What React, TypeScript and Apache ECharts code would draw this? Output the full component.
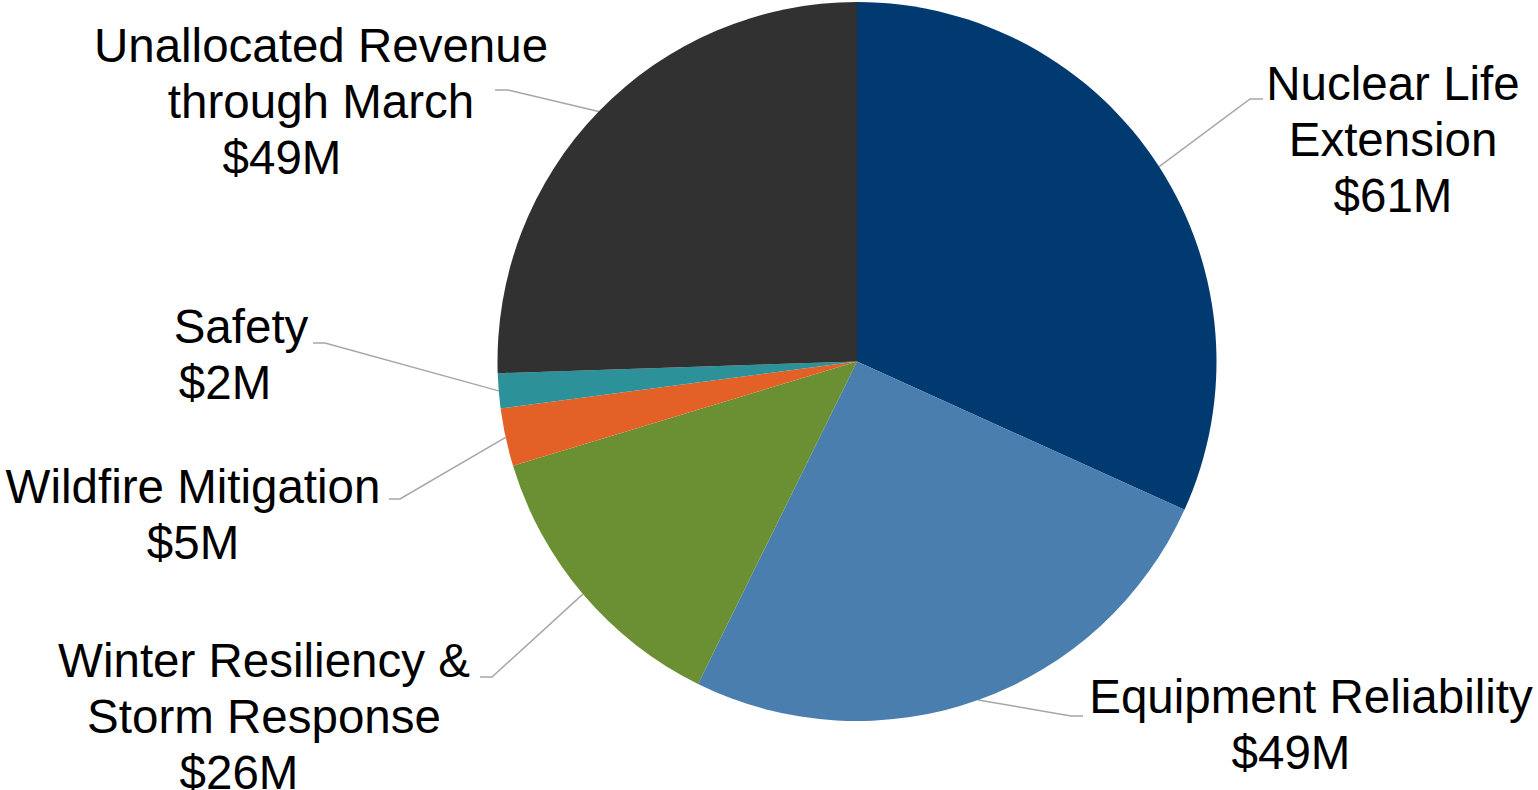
import React, { useEffect, useRef } from "react";
import * as echarts from "echarts";

// ---- data ----
const categories = [
  "Nuclear Life Extension",
  "Equipment Reliability",
  "Winter Resiliency & Storm Response",
  "Wildfire Mitigation",
  "Safety",
  "Unallocated Revenue through March",
];
const labelNameLines = [
  ["Nuclear Life", "Extension"],
  ["Equipment Reliability"],
  ["Winter Resiliency &", "Storm Response"],
  ["Wildfire Mitigation"],
  ["Safety"],
  ["Unallocated Revenue", "through March"],
];
const values = [61, 49, 25, 5, 3, 49];
const amountLabels = ["$61M", "$49M", "$26M", "$5M", "$2M", "$49M"];

// ---- styles / layout ----
const colors = ["#003A70", "#4A7EAF", "#6A9033", "#E36026", "#2C9198", "#313131"];
const FONT = "'Liberation Sans', Arial, Helvetica, sans-serif";
const FONT_SIZE = 47.5;
const LINE_H = 56;
const CENTER: [number, number] = [857, 361.5];
const RADIUS = 359.5;

// label block: center x, top y, amount-line right padding (shifts it left), leader elbow & end
const labelLayouts = [
  { x: 1393, top: 55, pad: 0, elbow: [1250, 99], end: [1263, 99] },
  { x: 1311, top: 668, pad: 40, elbow: [1071, 716], end: [1083, 716] },
  { x: 264, top: 632, pad: 50, elbow: [492, 677], end: [480, 677] },
  { x: 193, top: 458, pad: 0, elbow: [400, 499], end: [389, 499] },
  { x: 241, top: 298, pad: 32, elbow: [325, 343], end: [313, 343] },
  { x: 321, top: 17, pad: 78, elbow: [508, 90], end: [495, 90] },
];

export default function App() {
  const ref = useRef<HTMLDivElement>(null);

  useEffect(() => {
    if (!ref.current) return;
    const chart = echarts.init(ref.current, undefined, { renderer: "svg" });

    const total = values.reduce((a, b) => a + b, 0);
    const midPoint = (idx: number) => {
      let cum = 0;
      for (let i = 0; i < idx; i++) cum += values[i];
      const mid = ((cum + values[idx] / 2) / total) * Math.PI * 2;
      return [CENTER[0] + RADIUS * Math.sin(mid), CENTER[1] - RADIUS * Math.cos(mid)];
    };

    const rich: Record<string, any> = {
      n: { fontSize: FONT_SIZE, lineHeight: LINE_H, fontFamily: FONT, color: "#000" },
    };
    labelLayouts.forEach((l, i) => {
      rich["v" + i] = {
        fontSize: FONT_SIZE,
        lineHeight: LINE_H,
        fontFamily: FONT,
        color: "#000",
        padding: [0, l.pad, 0, 0],
      };
    });

    chart.setOption({
      animation: false,
      backgroundColor: "#ffffff",
      series: [
        {
          type: "pie",
          center: CENTER,
          radius: RADIUS,
          startAngle: 90,
          clockwise: true,
          avoidLabelOverlap: false,
          silent: true,
          data: categories.map((name, i) => ({
            name,
            value: values[i],
            itemStyle: { color: colors[i] },
          })),
          label: {
            show: true,
            position: "outer",
            fontSize: FONT_SIZE,
            lineHeight: LINE_H,
            fontFamily: FONT,
            color: "#000",
            formatter: (p: any) =>
              labelNameLines[p.dataIndex].map((t) => `{n|${t}}`).join("\n") +
              `\n{v${p.dataIndex}|${amountLabels[p.dataIndex]}}`,
            rich,
          },
          labelLine: {
            show: true,
            length: 20,
            length2: 10,
            lineStyle: { color: "#A6A6A6", width: 1.5 },
          },
          labelLayout: (params: any) => {
            const i = params.dataIndex;
            const l = labelLayouts[i];
            const start =
              params.labelLinePoints && params.labelLinePoints[0]
                ? params.labelLinePoints[0]
                : midPoint(i);
            return {
              x: l.x,
              y: l.top,
              align: "center",
              verticalAlign: "top",
              labelLinePoints: [start, l.elbow, l.end],
            };
          },
        },
      ],
    });

    return () => chart.dispose();
  }, []);

  return (
    <div
      ref={ref}
      style={{ position: "fixed", left: 0, top: 0, width: "1538px", height: "790px" }}
    />
  );
}
